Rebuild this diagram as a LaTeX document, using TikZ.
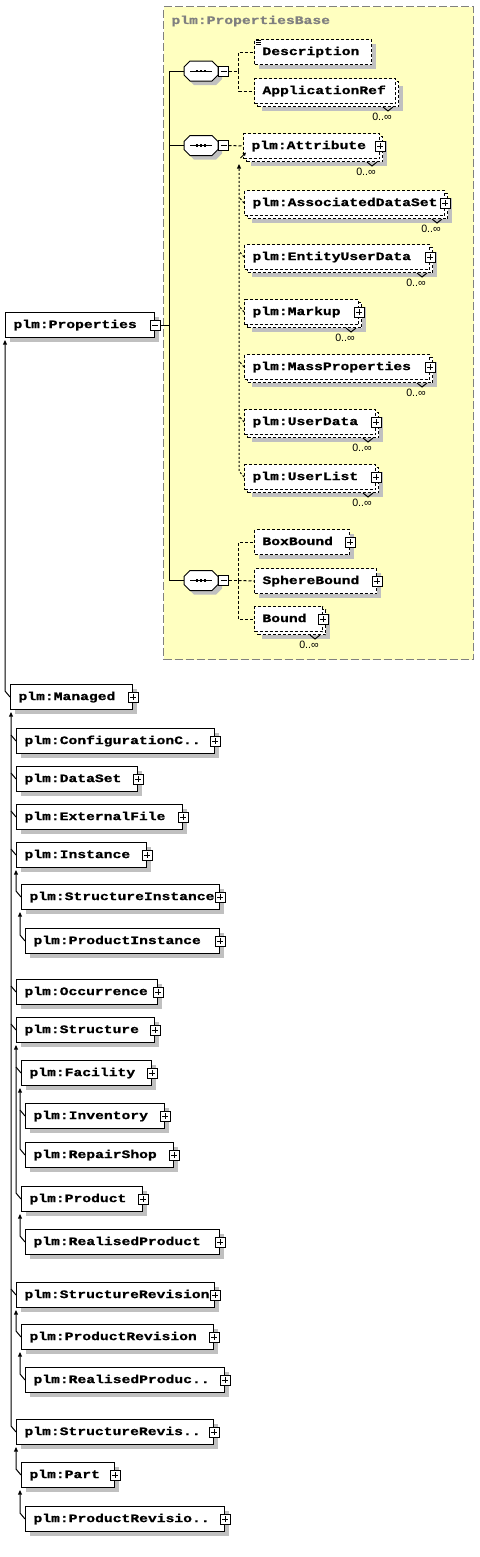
\documentclass[tikz,border=0pt]{standalone}
\usepackage{fontspec}
\usetikzlibrary{arrows.meta,shadows,calc}
\newfontfamily\elfont{Liberation Mono}[FakeStretch=1.28, FakeBold=0.9]
\newfontfamily\lblfont{Liberation Sans}
\newcommand\elf{\elfont\bfseries\fontsize{8.6pt}{10pt}\selectfont}
\definecolor{shdc}{RGB}{192,192,192}
\definecolor{grpfill}{RGB}{255,255,192}
\definecolor{grpdraw}{RGB}{128,128,128}
\tikzset{
  elem/.style={draw, fill=white, anchor=north west, minimum height=18.75pt,
    inner ysep=0pt, inner xsep=6pt, text width={(#1-16)*0.75pt}, align=left,
    font=\elf, text height=6.3pt, text depth=1.7pt},
  opt/.style={dash pattern=on 2.25pt off 1.5pt},
  shdw/.style={drop shadow={shadow xshift=3pt, shadow yshift=-3pt, opacity=1, fill=shdc}},
  plusbox/.style={draw, fill=white, minimum size=7.5pt, inner sep=0pt,
    path picture={\draw ([xshift=1.5pt]path picture bounding box.west) -- ([xshift=-1.5pt]path picture bounding box.east);
      \draw ([yshift=-1.5pt]path picture bounding box.north) -- ([yshift=1.5pt]path picture bounding box.south);}},
  minusbox/.style={draw, fill=white, minimum size=7.5pt, inner sep=0pt,
    path picture={\draw ([xshift=1.5pt]path picture bounding box.west) -- ([xshift=-1.5pt]path picture bounding box.east);}},
  lbl/.style={font=\lblfont\fontsize{8pt}{9pt}\selectfont, inner sep=0pt},
  grp/.style={draw=grpdraw, fill=grpfill, dash pattern=on 6pt off 2.25pt, anchor=north west,
    minimum width=232.5pt, minimum height=489.75pt, inner sep=0pt},
  grptitle/.style={anchor=west, inner sep=0pt, text=grpdraw, font=\elf},
  inh/.style={-{Triangle[width=3pt,length=3.5pt]}, shorten >=1.5pt},
  sub/.style={dash pattern=on 1.5pt off 1.5pt},
  dconn/.style={dash pattern=on 2.25pt off 1.5pt},
  pics/seqc/.style={code={
    \path[fill=shdc, shift={(4,4)}] (-17,-4) -- (-11,-10) -- (11,-10) -- (17,-4) -- (17,4) -- (11,10) -- (-11,10) -- (-17,4) -- cycle;
    \draw[fill=white] (-17,-4) -- (-11,-10) -- (11,-10) -- (17,-4) -- (17,4) -- (11,10) -- (-11,10) -- (-17,4) -- cycle;
    \draw (-11,0) -- (11,0);
    \foreach \dx in {-4,0,4} \fill ({\dx-1.4},-1.4) rectangle ({\dx+1.4},1.4);
    \node[minusbox] (-m) at (22.5,0) {};
    \coordinate (-in) at (-17,0);
    \coordinate (-out) at (27.5,0);
  }}
}
% single box with plus
\newcommand\PBox[6][]{\node[elem=#5, shdw, #1] (#2) at (#3,#4) {#6};
  \node[plusbox] (#2-p) at (#2.east) {};}
% stacked (0..unbounded) optional box
\newcommand\MBox[5]{\node[elem=#4, opt, shdw] (#1-b) at ({#2+3},{#3+3}) {};
  \node[elem=#4, opt] (#1) at (#2,#3) {#5};
  \draw ([shift={(-16,0)}]#1-b.south east) -- ++(5,4) -- ++(5,-4);
  \node[lbl] (#1-m) at ([shift={(-17,10)}]#1-b.south east) {0..∞};}
\begin{document}
\begin{tikzpicture}[x=0.75pt, y=-0.75pt, line width=0.75pt]
\useasboundingbox (0,0) rectangle (479,1557);
% group
\node[grp] (grp) at (163,6) {};
\node[grptitle] (grpt) at (171,21) {plm:PropertiesBase};
% compositors
\pic (s1) at (201,71) {seqc};
\pic (s2) at (201,145.5) {seqc};
\pic (s3) at (201,580.5) {seqc};
% group elements
\node[elem=117, opt, shdw] (desc) at (254,39) {Description};
\foreach \dy in {1.5,3.5,5.5} \draw[line width=0.6pt] ([shift={(1.5,\dy)}]desc.north west) -- ++(5.5,0);
\MBox{appref}{254}{78}{141}{ApplicationRef}
\MBox{attr}{243}{133}{136}{plm:Attribute}
\MBox{assoc}{244}{190}{200}{plm:AssociatedDataSet}
\MBox{entity}{244}{244}{185}{plm:EntityUserData}
\MBox{markup}{244}{299}{114}{plm:Markup}
\MBox{mass}{244}{354}{185}{plm:MassProperties}
\MBox{udata}{244}{409}{131}{plm:UserData}
\MBox{ulist}{244}{464}{131}{plm:UserList}
\node[elem=95, opt, shdw] (boxb) at (254,529) {BoxBound};
\node[elem=122, opt, shdw] (sphb) at (254,568) {SphereBound};
\MBox{bound}{254}{606}{68}{Bound}
\foreach \n in {attr,assoc,entity,markup,mass,udata,ulist,boxb,sphb,bound}
  \node[plusbox] (\n-p) at (\n.east) {};
% compositor connectors
\draw (s1-in) -- ++(-15,0) coordinate (v) |- (s3-in);
\draw (s2-in) -- (s2-in -| v);
\draw[dconn] (s1-out) -- ++(10,0) coordinate (t) |- (desc.west);
\draw[dconn] (t) |- (appref.west);
\draw[dconn] (s2-out) -- (attr.west);
\draw[dconn] (s3-out) -- ++(10,0) coordinate (t) |- (boxb.west);
\draw[dconn] (t) |- (bound.west);
\draw[dconn] (t) -- (sphb.west);
% substitution group
\foreach \n in {assoc,entity,markup,mass,udata} \draw[sub] (\n.west) -- ++(-5,-6);
\draw[sub, inh] (ulist.west) -- ++(-5,-6) coordinate (t) -- (t |- attr-b.south);
\draw[-{Triangle[width=2.5pt,length=2.5pt]}] ([shift={(-2.5,-1)}]attr.south west) -- ([shift={(3,-6.5)}]attr.south west);
% left tree
\node[elem=149, shdw] (prop) at (5,312) {plm:Properties};
\node[minusbox] (prop-m) at (prop.east) {};
\draw (prop-m.east) -- (prop-m.east -| v);
\PBox{managed}{10}{684}{122}{plm:Managed}
\PBox{cfg}{16}{728}{198}{plm:ConfigurationC..}
\PBox{dataset}{16}{766}{121}{plm:DataSet}
\PBox{extfile}{16}{804}{166}{plm:ExternalFile}
\PBox{instance}{16}{842}{130}{plm:Instance}
\PBox{sinst}{21}{884}{198}{plm:StructureInstance}
\PBox{pinst}{25}{928}{194}{plm:ProductInstance}
\PBox{occ}{16}{979}{141}{plm:Occurrence}
\PBox{structure}{16}{1017}{138}{plm:Structure}
\PBox{facility}{21}{1060}{130}{plm:Facility}
\PBox{inventory}{25}{1103}{139}{plm:Inventory}
\PBox{repair}{25}{1142}{148}{plm:RepairShop}
\PBox{product}{21}{1186}{121}{plm:Product}
\PBox{rproduct}{25}{1229}{194}{plm:RealisedProduct}
\PBox{srev}{16}{1282}{198}{plm:StructureRevision}
\PBox{prev}{21}{1324}{192}{plm:ProductRevision}
\PBox{rprodrev}{25}{1367}{199}{plm:RealisedProduc..}
\PBox{srevb}{16}{1419}{197}{plm:StructureRevis..}
\PBox{part}{21}{1462}{93}{plm:Part}
\PBox{prevb}{25}{1506}{199}{plm:ProductRevisio..}
% inheritance connectors
\draw[inh] (managed.west) -- ++(-5,-6) coordinate (t) -- (t |- prop.south);
\foreach \n in {cfg,dataset,extfile,instance,occ,structure,srev} \draw (\n.west) -- ++(-5,-6);
\draw[inh] (srevb.west) -- ++(-5,-6) coordinate (t) -- (t |- managed.south);
\draw[inh] (sinst.west) -- ++(-5,-6) coordinate (t) -- (t |- instance.south);
\draw[inh] (pinst.west) -- ++(-5,-6) coordinate (t) -- (t |- sinst.south);
\draw (facility.west) -- ++(-5,-6);
\draw[inh] (product.west) -- ++(-5,-6) coordinate (t) -- (t |- structure.south);
\draw (inventory.west) -- ++(-5,-6);
\draw[inh] (repair.west) -- ++(-5,-6) coordinate (t) -- (t |- facility.south);
\draw[inh] (rproduct.west) -- ++(-5,-6) coordinate (t) -- (t |- product.south);
\draw[inh] (prev.west) -- ++(-5,-6) coordinate (t) -- (t |- srev.south);
\draw[inh] (rprodrev.west) -- ++(-5,-6) coordinate (t) -- (t |- prev.south);
\draw[inh] (part.west) -- ++(-5,-6) coordinate (t) -- (t |- srevb.south);
\draw[inh] (prevb.west) -- ++(-5,-6) coordinate (t) -- (t |- part.south);
\end{tikzpicture}
\end{document}
